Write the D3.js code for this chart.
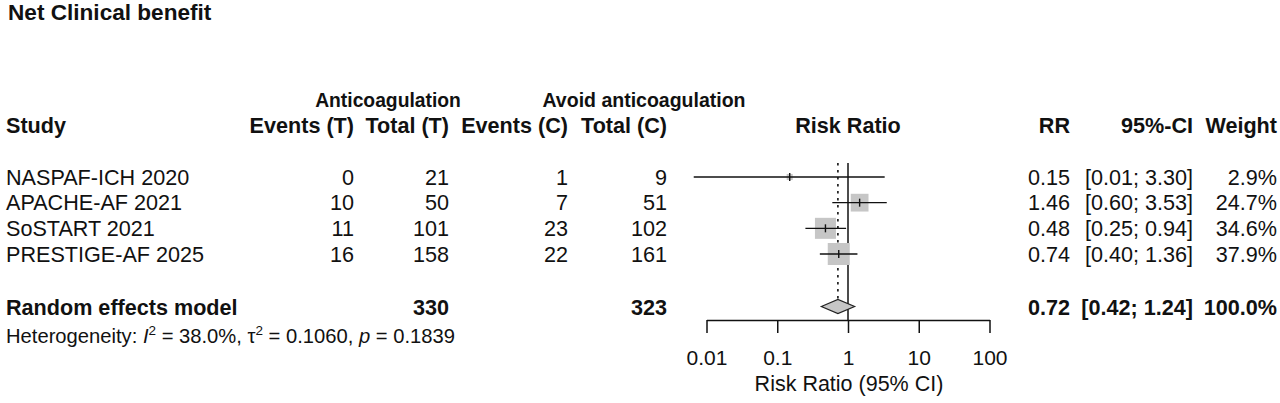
<!DOCTYPE html>
<html>
<head>
<meta charset="utf-8">
<script src="https://cdn.jsdelivr.net/npm/d3@7"></script>
<style>
  body { margin: 0; background: #fff; }
  svg text { font-family: "Liberation Sans", Arial, Helvetica, sans-serif; fill: #111; }
</style>
</head>
<body>
<svg id="chart" width="1280" height="403"></svg>
<script>
// ---- data ----
var studies  = ["NASPAF-ICH 2020", "APACHE-AF 2021", "SoSTART 2021", "PRESTIGE-AF 2025"];
var eventsT  = [0, 10, 11, 16];
var totalT   = [21, 50, 101, 158];
var eventsC  = [1, 7, 23, 22];
var totalC   = [9, 51, 102, 161];
var rr       = [0.15, 1.46, 0.48, 0.74];
var ciLow    = [0.0066, 0.60, 0.25, 0.40];
var ciHigh   = [3.30, 3.53, 0.94, 1.36];
var weight   = [2.9, 24.7, 34.6, 37.9];

var pooled      = { rr: 0.72, low: 0.42, high: 1.24, weight: 100.0 };
var pooledTotal = [330, 323];
var heterogeneity = { i2: "38.0%", tau2: "0.1060", p: "0.1839" };
var axisTicks = [0.01, 0.1, 1, 10, 100];

var svg = d3.select("#chart");
var f2 = d3.format(".2f");
var FS = "21.6px";

// columns (right edges of right-aligned columns)
var col = { study: 6, evT: 354, totT: 449, evC: 568, totC: 667, rr: 1070, ci: 1193, w: 1277 };
var rowY = d3.scalePoint().domain(studies).range([177, 254]);
var pooledY = 306.5;

var x = d3.scaleLog().domain([0.01, 100]).range([706.5, 989.5]);
var side = d3.scaleSqrt().domain([0, 37.9]).range([0, 22]);

// title
svg.append("text").attr("x", 8).attr("y", 19.5)
    .style("font-size", "22.6px").style("font-weight", "bold")
    .text("Net Clinical benefit");

// headers
function hdr(txt, xx, y, anchor, size) {
    svg.append("text").attr("x", xx).attr("y", y)
        .attr("text-anchor", anchor)
        .style("font-size", size || FS).style("font-weight", "bold")
        .text(txt);
}
hdr("Anticoagulation", 388, 107, "middle", "19.3px");
hdr("Avoid anticoagulation", 644, 107, "middle", "19.5px");
hdr("Study", col.study, 133, "start");
hdr("Events (T)", col.evT, 133, "end");
hdr("Total (T)", col.totT, 133, "end");
hdr("Events (C)", col.evC, 133, "end");
hdr("Total (C)", col.totC, 133, "end");
hdr("Risk Ratio", x(1), 133, "middle");
hdr("RR", col.rr, 133, "end");
hdr("95%-CI", col.ci, 133, "end");
hdr("Weight", col.w, 133, "end");

// study rows
var rows = svg.selectAll("g.row").data(studies).enter().append("g")
    .attr("class", "row")
    .attr("transform", function(d) { return "translate(0," + (rowY(d) + 7.5) + ")"; })
    .style("font-size", FS);

function cell(xx, anchor, fn) {
    rows.append("text").attr("x", xx).attr("text-anchor", anchor)
        .text(function(d, i) { return fn(i); });
}
cell(col.study, "start", function(i) { return studies[i]; });
cell(col.evT, "end", function(i) { return eventsT[i]; });
cell(col.totT, "end", function(i) { return totalT[i]; });
cell(col.evC, "end", function(i) { return eventsC[i]; });
cell(col.totC, "end", function(i) { return totalC[i]; });
cell(col.rr, "end", function(i) { return f2(rr[i]); });
cell(col.ci, "end", function(i) { return "[" + f2(ciLow[i]) + "; " + f2(ciHigh[i]) + "]"; });
cell(col.w, "end", function(i) { return weight[i].toFixed(1) + "%"; });

// pooled row
var pr = svg.append("g").attr("transform", "translate(0," + (pooledY + 8) + ")")
    .style("font-size", FS).style("font-weight", "bold");
pr.append("text").attr("x", col.study).text("Random effects model");
pr.append("text").attr("x", col.totT).attr("text-anchor", "end").text(pooledTotal[0]);
pr.append("text").attr("x", col.totC).attr("text-anchor", "end").text(pooledTotal[1]);
pr.append("text").attr("x", col.rr).attr("text-anchor", "end").text(f2(pooled.rr));
pr.append("text").attr("x", col.ci).attr("text-anchor", "end")
    .text("[" + f2(pooled.low) + "; " + f2(pooled.high) + "]");
pr.append("text").attr("x", col.w).attr("text-anchor", "end").text(pooled.weight.toFixed(1) + "%");

// heterogeneity line
var het = svg.append("text").attr("x", col.study).attr("y", 343).style("font-size", "20.2px");
het.append("tspan").text("Heterogeneity: ");
het.append("tspan").style("font-style", "italic").text("I");
het.append("tspan").attr("dy", -8).style("font-size", "13.5px").text("2");
het.append("tspan").attr("dy", 8).text(" = " + heterogeneity.i2 + ", \u03c4");
het.append("tspan").attr("dy", -8).style("font-size", "13.5px").text("2");
het.append("tspan").attr("dy", 8).text(" = " + heterogeneity.tau2 + ", ");
het.append("tspan").style("font-style", "italic").text("p");
het.append("tspan").text(" = " + heterogeneity.p);

// reference lines
svg.append("line").attr("x1", x(1)).attr("x2", x(1)).attr("y1", 163).attr("y2", 320)
    .attr("stroke", "#111").attr("stroke-width", 1.5);
svg.append("line").attr("x1", x(pooled.rr)).attr("x2", x(pooled.rr)).attr("y1", 163).attr("y2", 300)
    .attr("stroke", "#111").attr("stroke-width", 1.6).attr("stroke-dasharray", "2.5,4.5");

// study markers
var marks = svg.selectAll("g.mark").data(studies).enter().append("g").attr("class", "mark");
marks.append("rect")
    .attr("x", function(d, i) { return x(rr[i]) - side(weight[i]) / 2; })
    .attr("y", function(d, i) { return rowY(d) - side(weight[i]) / 2; })
    .attr("width", function(d, i) { return side(weight[i]); })
    .attr("height", function(d, i) { return side(weight[i]); })
    .attr("fill", "#c6c6c6");
marks.append("line")
    .attr("x1", function(d, i) { return x(ciLow[i]); })
    .attr("x2", function(d, i) { return x(ciHigh[i]); })
    .attr("y1", function(d) { return rowY(d); })
    .attr("y2", function(d) { return rowY(d); })
    .attr("stroke", "#111").attr("stroke-width", 1.4);
marks.append("line")
    .attr("x1", function(d, i) { return x(rr[i]); })
    .attr("x2", function(d, i) { return x(rr[i]); })
    .attr("y1", function(d) { return rowY(d) - 4; })
    .attr("y2", function(d) { return rowY(d) + 4; })
    .attr("stroke", "#111").attr("stroke-width", 1.4);

// pooled diamond
svg.append("path")
    .attr("d", d3.line()([
        [x(pooled.low), pooledY], [x(pooled.rr), pooledY - 7],
        [x(pooled.high), pooledY], [x(pooled.rr), pooledY + 7]
    ]) + "Z")
    .attr("fill", "#c6c6c6").attr("stroke", "#222").attr("stroke-width", 1.2);

// axis
var axis = svg.append("g").attr("transform", "translate(0,320)")
    .call(d3.axisBottom(x).tickValues(axisTicks).tickSize(13).tickSizeOuter(0).tickPadding(17)
        .tickFormat(function(d) { return String(d); }));
axis.attr("font-family", null).attr("font-size", null);
axis.selectAll("path, line").attr("stroke", "#111").attr("stroke-width", 1.5);
axis.selectAll("text").style("font-size", "21px").attr("fill", "#111");

svg.append("text").attr("x", x(1) + 1).attr("y", 391).attr("text-anchor", "middle")
    .style("font-size", "21.5px").text("Risk Ratio (95% CI)");
</script>
</body>
</html>
